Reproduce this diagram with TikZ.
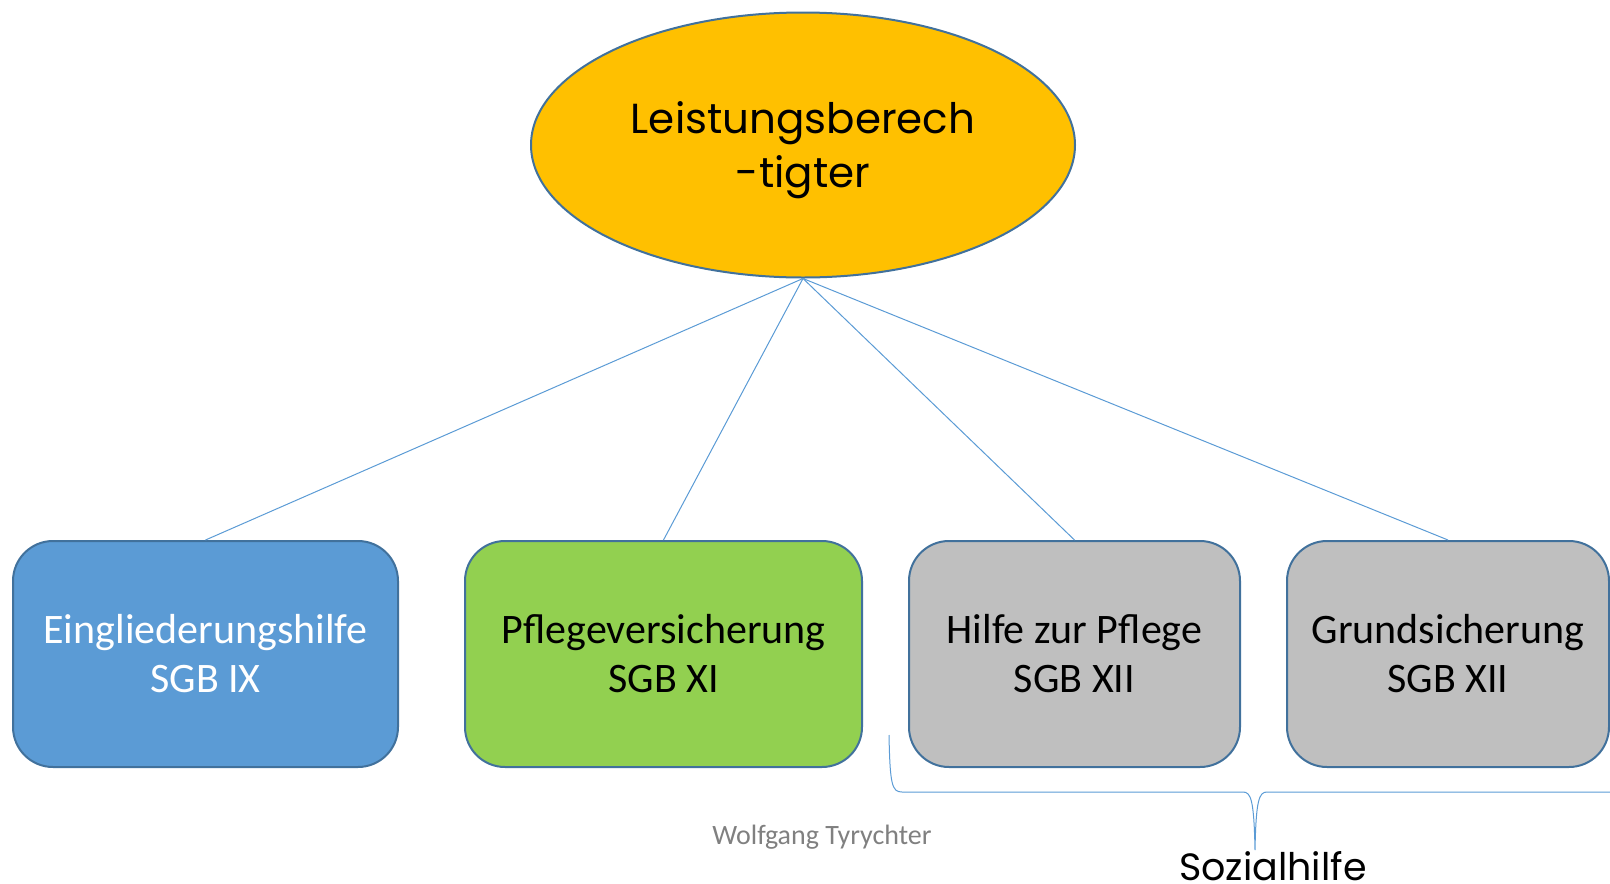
\documentclass[tikz,border=0pt]{standalone}
\usepackage{fontspec}
\setmainfont{Carlito}
\newfontfamily\geofont{Poppins}
\usetikzlibrary{shapes.geometric}
\definecolor{edgeblue}{HTML}{41719C}
\definecolor{lineblue}{HTML}{5B9BD5}
\definecolor{ellfill}{HTML}{FFC000}
\definecolor{boxblue}{HTML}{5B9BD5}
\definecolor{boxgreen}{HTML}{92D050}
\definecolor{boxgray}{HTML}{BFBFBF}
\tikzset{
  stepbox/.style={draw=edgeblue, line width=2pt, rounded corners=40pt, minimum height=226pt, inner sep=0pt, align=center, font=\fontsize{42}{49}\selectfont},
  link/.style={draw=lineblue, line width=1pt},
}
\begin{document}
\begin{tikzpicture}[x=1pt,y=-1pt]
\useasboundingbox (0,0) rectangle (1610,884);
\node[ellipse, draw=edgeblue, line width=2pt, fill=ellfill, minimum width=544pt, minimum height=265pt, inner sep=0pt] (top) at (803,145) {};
\node[align=center, font=\geofont\fontsize{42}{54}\selectfont] (toptext) at (803,150) {Leistungsberech\\-tigter};
\node[stepbox, fill=boxblue, text=white, minimum width=385pt] (b1) at (205.5,654) {Eingliederungshilfe\\SGB IX};
\node[stepbox, fill=boxgreen, minimum width=397pt] (b2) at (663.5,654) {Pflegeversicherung\\SGB XI};
\node[stepbox, fill=boxgray, minimum width=331pt] (b3) at (1074.5,654) {Hilfe zur Pflege\\SGB XII};
\node[stepbox, fill=boxgray, minimum width=322pt] (b4) at (1448,654) {Grundsicherung\\SGB XII};
\draw[link] (top.south) -- (b1.north);
\draw[link] (top.south) -- (b2.north);
\draw[link] (top.south) -- (b3.north);
\draw[link] (top.south) -- (b4.north);
\coordinate (bl) at (889,735);
\coordinate (bt) at (1255,850);
\coordinate (br) at (1615,792);
\draw[link] (bl) .. controls (890,785) and (892,792) .. (902,792) -- (1243,792) .. controls (1251,792) and (1254,800) .. (bt) .. controls (1256,800) and (1259,792) .. (1267,792) -- (br);
\node[text=gray, font=\fontsize{28}{32}\selectfont] (auth) at (822,837) {Wolfgang Tyrychter};
\node[font=\geofont\fontsize{38}{46}\selectfont, anchor=base] (soz) at (1273,880) {Sozialhilfe};
\end{tikzpicture}
\end{document}
